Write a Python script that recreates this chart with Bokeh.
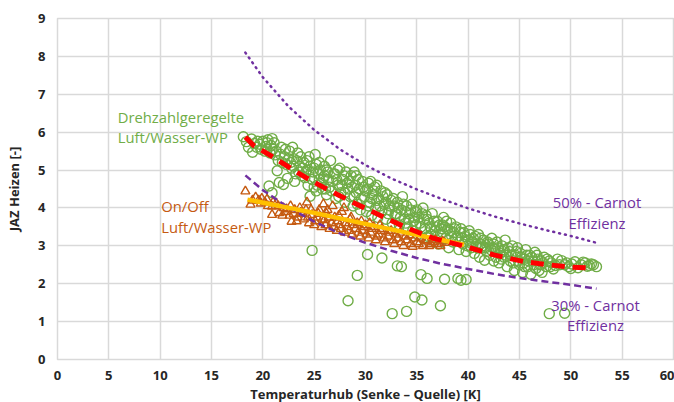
from bokeh.plotting import figure
from bokeh.models import Range1d, ColumnDataSource, Label, FixedTicker
from bokeh.embed import file_html
from bokeh.resources import INLINE

# ---------------- data ----------------
green_x = [18.1, 18.6, 19.0, 19.5, 20.0, 20.5, 20.9, 19.2, 19.8, 20.3, 20.7, 21.0, 20.6, 20.9,
           21.4, 21.6, 22.0, 22.4, 21.2, 21.5, 21.8, 22.1, 22.3, 22.6, 22.8, 23.0, 23.2, 23.4, 23.6, 23.8, 22.9, 23.1,
           24.0, 24.2, 24.4, 24.5, 24.6, 24.8, 24.8, 25.0, 25.1, 25.2, 25.4, 25.5, 25.7, 25.9, 26.0, 26.2, 26.3, 26.5, 26.6, 26.8, 25.3, 24.3, 26.1,
           27.0, 27.1, 27.3, 27.5, 27.6, 27.8, 28.0, 28.1, 28.3, 28.5, 28.6, 28.8, 29.0, 29.1, 29.3, 29.5, 29.6, 29.8, 27.4, 28.2, 29.2, 28.9,
           30.0, 30.1, 30.3, 30.4, 30.6, 30.7, 30.9, 31.0, 31.2, 31.3, 31.5, 31.6, 31.8, 32.0, 32.1, 32.3, 32.5, 32.6, 32.8, 30.5, 31.1, 31.9,
           33.0, 33.1, 33.3, 33.5, 33.6, 33.8, 34.0, 34.1, 34.3, 34.5, 34.6, 34.8, 35.0, 35.1, 35.3, 35.5, 35.6, 35.8, 33.9, 34.9,
           36.0, 36.1, 36.3, 36.5, 36.6, 36.8, 37.0, 37.1, 37.3, 37.5, 37.6, 37.8, 38.0, 38.1, 38.3, 38.5, 38.6, 38.8, 36.4, 37.4,
           39.0, 39.1, 39.3, 39.5, 39.6, 39.8, 40.0, 40.1, 40.3, 40.5, 40.6, 40.8, 41.0, 41.1, 41.3, 41.5, 41.6, 41.8, 40.2, 41.2,
           42.0, 42.1, 42.3, 42.5, 42.6, 42.8, 43.0, 43.1, 43.3, 43.5, 43.6, 43.8, 44.0, 44.1, 44.3, 44.5, 44.6, 44.8, 43.4, 42.4,
           45.0, 45.1, 45.3, 45.5, 45.6, 45.8, 46.0, 46.1, 46.3, 46.5, 46.6, 46.8, 47.0, 47.2, 47.4, 47.6, 47.9, 45.4,
           48.1, 48.3, 48.7, 49.1, 49.4, 49.8, 50.1, 50.4, 50.7, 51.0, 51.2, 51.6, 52.0, 52.5, 48.5, 49.6,
           30.2, 31.6, 33.1, 33.5, 29.2, 35.4, 36.0, 37.7, 39.0, 39.3, 39.8, 28.3, 34.8, 35.5, 32.6, 34.0, 37.3, 47.9, 49.4,
           18.4, 18.9, 19.4, 19.7, 20.2, 20.4, 20.8, 21.1, 21.3, 21.7, 21.9, 22.2, 22.5, 22.7, 23.0, 23.3, 23.5, 23.7,
           23.9, 24.1, 24.3, 24.6, 24.9, 25.0, 25.2, 25.5, 25.6, 25.8, 26.0, 26.2, 26.4, 26.7, 26.9, 27.2, 27.3, 27.7,
           27.9, 28.0, 28.4, 28.7, 28.9, 29.1, 29.4, 29.7, 29.9, 30.2, 30.3, 30.6, 30.8, 31.1, 31.4, 31.7, 32.0, 32.2,
           32.4, 32.7, 32.9, 33.2, 33.4, 33.7, 33.9, 34.2, 34.4, 34.7, 34.9, 35.2, 35.4, 35.7, 35.9, 36.2, 36.4, 36.7,
           36.9, 37.2, 37.5, 37.7, 37.9, 38.2, 38.4, 38.7, 38.9, 39.2, 39.4, 39.7, 39.9, 40.2, 40.4, 40.7, 40.9, 41.2,
           41.4, 41.7, 41.9, 42.2, 42.5, 42.7, 42.9, 43.2, 43.5, 43.7, 43.9, 44.2, 44.4, 44.7, 44.9, 45.2, 45.5, 45.7,
           45.9, 46.2, 46.4, 46.7, 46.9, 47.1, 47.3, 47.7, 48.0, 48.9, 50.0, 51.4, 51.8, 52.2]
green_y = [5.88, 5.60, 5.47, 5.76, 5.76, 5.80, 5.83, 5.70, 5.55, 5.62, 5.45, 5.55, 4.58, 4.40,
           4.98, 4.67, 4.62, 4.78, 5.40, 5.25, 5.60, 5.35, 5.15, 5.50, 5.05, 5.30, 4.90, 5.45, 5.10, 4.85, 5.60, 4.70,
           5.20, 4.95, 4.60, 5.35, 4.31, 2.88, 4.75, 5.05, 5.41, 4.45, 4.90, 5.20, 4.65, 4.80, 5.10, 4.35, 4.95, 4.55, 5.25, 4.70, 4.60, 5.00, 4.50,
           4.90, 4.25, 4.60, 5.05, 4.40, 4.75, 4.15, 4.95, 4.50, 4.30, 4.85, 4.05, 4.60, 4.40, 4.75, 3.95, 4.25, 4.55, 4.30, 4.65, 4.10, 4.95,
           4.45, 3.90, 4.65, 4.15, 3.80, 4.35, 4.55, 4.00, 3.75, 4.25, 4.45, 3.90, 4.10, 3.70, 4.35, 3.95, 4.20, 3.60, 4.05, 4.70, 4.60, 4.40,
           3.85, 4.15, 3.55, 3.95, 4.30, 3.70, 4.05, 3.50, 3.85, 4.10, 3.40, 3.75, 3.95, 3.30, 3.60, 3.85, 4.00, 3.45, 3.60, 3.55,
           3.70, 3.25, 3.50, 3.85, 3.15, 3.40, 3.65, 3.05, 3.30, 3.55, 3.75, 3.20, 3.45, 2.95, 3.60, 3.10, 3.35, 3.50, 3.30, 3.45,
           3.25, 2.90, 3.45, 3.05, 3.35, 2.85, 3.15, 3.40, 2.95, 3.20, 2.80, 3.05, 3.30, 2.70, 2.95, 3.15, 2.62, 2.85, 3.00, 3.05,
           3.05, 2.75, 3.20, 2.60, 2.90, 3.10, 2.55, 2.80, 3.00, 2.70, 3.15, 2.45, 2.85, 2.60, 3.00, 2.35, 2.75, 2.95, 2.85, 2.95,
           2.50, 2.80, 2.30, 2.65, 2.90, 2.45, 2.75, 2.25, 2.60, 2.83, 2.40, 2.65, 2.50, 2.30, 2.70, 2.45, 2.60, 2.55,
           2.55, 2.39, 2.65, 2.61, 2.50, 2.45, 2.52, 2.58, 2.42, 2.50, 2.57, 2.46, 2.52, 2.45, 2.48, 2.55,
           2.77, 2.68, 2.47, 2.45, 2.22, 2.24, 2.14, 2.12, 2.14, 2.09, 2.11, 1.55, 1.65, 1.57, 1.21, 1.27, 1.42, 1.21, 1.22,
           5.75, 5.82, 5.60, 5.68, 5.50, 5.72, 5.65, 5.72, 5.50, 5.42, 5.20, 5.55, 5.30, 5.20, 5.10, 5.25, 4.95, 5.35,
           5.05, 4.80, 5.25, 5.10, 4.95, 4.55, 5.15, 4.75, 5.00, 4.50, 4.85, 5.00, 4.75, 4.45, 4.90, 4.75, 5.00, 4.60,
           4.85, 4.40, 4.70, 4.55, 4.30, 4.85, 4.50, 4.70, 4.30, 4.50, 4.05, 4.25, 4.45, 4.20, 4.05, 4.30, 4.15, 3.85,
           4.05, 4.25, 3.85, 4.00, 3.75, 4.10, 3.90, 3.70, 3.95, 3.65, 3.90, 3.75, 3.50, 3.70, 3.80, 3.60, 3.45, 3.65,
           3.50, 3.55, 3.35, 3.50, 3.65, 3.40, 3.25, 3.45, 3.20, 3.35, 3.20, 3.25, 3.00, 3.30, 3.10, 3.25, 2.95, 3.20,
           3.00, 2.95, 3.10, 2.90, 3.05, 2.70, 2.95, 2.65, 2.90, 2.75, 2.95, 2.75, 2.55, 2.85, 2.60, 2.70, 2.45, 2.75,
           2.60, 2.70, 2.50, 2.75, 2.35, 2.60, 2.55, 2.65, 2.45, 2.50, 2.40, 2.55, 2.48, 2.50]

orange_x = [18.3, 18.8, 19.3, 19.6, 19.9, 20.2, 20.5, 20.9, 20.9, 21.3, 21.6, 22.0, 22.3, 22.6, 22.8, 23.1, 23.4, 23.7,
            24.0, 24.2, 24.5, 24.8, 25.0, 25.3, 25.5, 25.7, 26.0, 26.2, 26.5, 26.7, 27.0, 27.2, 27.5, 27.7, 28.0, 28.2,
            28.5, 28.7, 29.0, 29.2, 29.5, 29.7, 30.0, 30.3, 30.5, 30.8, 31.0, 31.3, 31.6, 31.9, 32.2, 32.5, 32.8, 33.1,
            33.4, 33.7, 34.0, 34.3, 34.6, 35.0, 35.3, 35.6, 36.0, 36.4, 36.8, 37.3, 37.7, 26.8, 25.9, 27.9, 24.3,
            19.0, 19.8, 20.4, 21.0, 21.5, 21.9, 22.2, 22.7, 23.0, 23.3, 23.6, 23.9, 24.4, 24.7, 25.1, 25.4, 25.8, 26.1,
            26.4, 26.9, 27.3, 27.6, 28.1, 28.4, 28.9, 29.3, 29.8, 30.1, 30.6, 31.1, 31.5, 31.8, 32.3, 32.7, 33.0, 33.5,
            33.9, 34.4, 34.8, 35.2, 35.8, 36.2, 36.6, 37.0, 37.5, 26.3, 27.4, 28.6, 29.6, 30.4, 31.4]
orange_y = [4.44, 4.09, 4.28, 4.20, 4.25, 4.15, 4.05, 4.04, 3.82, 4.12, 3.87, 4.00, 3.97, 3.80, 3.64, 3.95, 3.75, 3.88,
            3.70, 3.95, 3.60, 3.82, 3.55, 3.75, 3.95, 3.50, 3.68, 3.85, 3.45, 3.60, 3.75, 3.40, 3.55, 3.90, 3.35, 3.50,
            3.70, 3.30, 3.45, 3.60, 3.25, 3.40, 3.55, 3.20, 3.35, 3.50, 3.15, 3.30, 3.45, 3.10, 3.25, 3.40, 3.05, 3.20,
            3.35, 3.00, 3.15, 3.28, 2.98, 3.10, 3.22, 3.00, 3.12, 3.05, 3.15, 3.00, 3.08, 4.05, 4.10, 4.00, 4.15,
            4.20, 4.12, 4.22, 4.15, 4.05, 3.80, 3.90, 4.05, 3.85, 3.65, 4.00, 3.85, 3.75, 3.95, 3.65, 3.85, 3.70, 3.55,
            3.75, 3.50, 3.65, 3.45, 3.60, 3.40, 3.55, 3.35, 3.50, 3.30, 3.45, 3.25, 3.40, 3.20, 3.35, 3.15, 3.30, 3.10,
            3.25, 3.05, 3.20, 3.05, 3.15, 3.00, 3.10, 3.05, 3.12, 3.95, 3.80, 3.75, 3.65, 3.60, 3.55]

carnot_x = [18.3, 20, 22.5, 25, 27.5, 30, 32.5, 35, 37.5, 40, 42.5, 45, 47.5, 50, 52.5]
carnot50_y = [8.10, 7.45, 6.68, 6.06, 5.55, 5.13, 4.78, 4.49, 4.23, 3.99, 3.78, 3.59, 3.42, 3.26, 3.08]
carnot30_y = [4.86, 4.47, 4.01, 3.64, 3.33, 3.08, 2.87, 2.68, 2.52, 2.39, 2.26, 2.15, 2.06, 1.97, 1.87]

red_x = [18.3, 19.1, 21.0, 23.1, 24.2, 26.0, 28.9, 31.3, 33.8, 36.6, 39.9, 42.5, 45.5, 47.8, 50.0, 52.1]
red_y = [5.87, 5.65, 5.34, 4.98, 4.80, 4.53, 4.13, 3.82, 3.50, 3.20, 2.97, 2.76, 2.58, 2.50, 2.44, 2.41]

yellow_x = [18.5, 25.0, 30.0, 35.0, 39.6]
yellow_y = [4.22, 3.87, 3.58, 3.29, 3.03]

x_ticks = [0, 5, 10, 15, 20, 25, 30, 35, 40, 45, 50, 55, 60]
y_ticks = [0, 1, 2, 3, 4, 5, 6, 7, 8, 9]

GREEN = "#70AD47"
ORANGE = "#C55A11"
PURPLE = "#7030A0"
FONT = "Open Sans"

p = figure(width=674, height=405, output_backend="svg", toolbar_location=None,
           x_range=Range1d(0, 60), y_range=Range1d(0, 9),
           min_border_left=57, min_border_right=1, min_border_top=18, min_border_bottom=40)

p.outline_line_color = "#D9D9D9"
p.outline_line_width = 1.5
for ax in (p.xaxis[0], p.yaxis[0]):
    ax.axis_line_color = None
    ax.major_tick_line_color = None
    ax.minor_tick_line_color = None
    ax.major_tick_out = 0
    ax.major_tick_in = 0
    ax.minor_tick_out = 0
    ax.minor_tick_in = 0
    ax.major_label_text_font = FONT
    ax.major_label_text_font_style = "bold"
    ax.major_label_text_font_size = "13px"
    ax.major_label_text_color = "#262626"
    ax.axis_label_text_font = FONT
    ax.axis_label_text_font_style = "bold"
    ax.axis_label_text_font_size = "13px"
    ax.axis_label_text_color = "#262626"
p.xaxis[0].ticker = FixedTicker(ticks=x_ticks)
p.yaxis[0].ticker = FixedTicker(ticks=y_ticks)
p.xaxis[0].major_label_standoff = 11
p.yaxis[0].major_label_standoff = 12
p.xaxis[0].axis_label_standoff = 2
p.yaxis[0].axis_label_standoff = 12
p.xaxis[0].axis_label = "Temperaturhub (Senke – Quelle) [K]"
p.yaxis[0].axis_label = "JAZ Heizen [-]"

p.xgrid.ticker = FixedTicker(ticks=x_ticks)
p.ygrid.ticker = FixedTicker(ticks=y_ticks)
p.grid.grid_line_color = "#D9D9D9"
p.grid.grid_line_width = 1.5

gsrc = ColumnDataSource(dict(x=green_x, y=green_y))
osrc = ColumnDataSource(dict(x=orange_x, y=orange_y))
p.scatter("x", "y", source=gsrc, marker="circle", size=10, fill_color=None,
          line_color=GREEN, line_width=1.4)
p.scatter("x", "y", source=osrc, marker="triangle", size=9, fill_color=None,
          line_color=ORANGE, line_width=1.4)

p.line(carnot_x, carnot50_y, line_color=PURPLE, line_width=2.5, line_dash="1 5", line_cap="round")
p.line(carnot_x, carnot30_y, line_color=PURPLE, line_width=2.5, line_dash="7 4")
p.line(yellow_x, yellow_y, line_color="#FFC000", line_width=4.5)
p.line(red_x, red_y, line_color="#FF0000", line_width=5, line_dash="13 8")

def add_text(x, y, txt, color, align="left"):
    p.add_layout(Label(x=x, y=y, text=txt, text_color=color, text_font=FONT,
                       text_font_size="14.8px", text_baseline="middle", text_align=align))

add_text(5.86, 6.4, "Drehzahlgeregelte", GREEN)
add_text(5.86, 5.86, "Luft/Wasser-WP", GREEN)
add_text(10.1, 4.04, "On/Off", ORANGE)
add_text(10.1, 3.5, "Luft/Wasser-WP", ORANGE)
add_text(52.55, 4.16, "50% - Carnot", PURPLE, "center")
add_text(52.55, 3.59, "Effizienz", PURPLE, "center")
add_text(52.4, 1.45, "30% - Carnot", PURPLE, "center")
add_text(52.4, 0.9, "Effizienz", PURPLE, "center")

open("out.html", "w").write(file_html(p, INLINE))
